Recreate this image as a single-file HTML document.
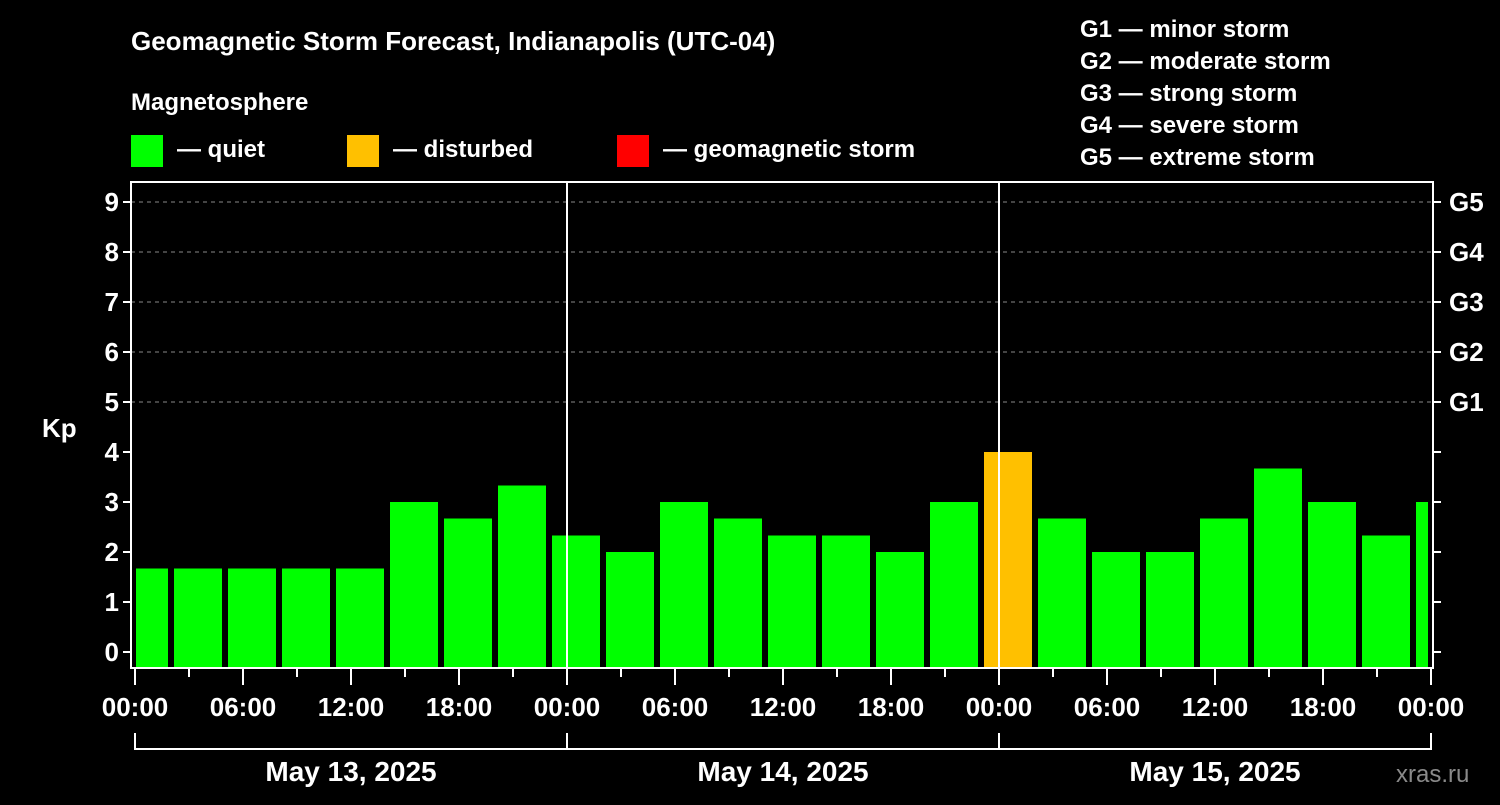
<!DOCTYPE html>
<html><head><meta charset="utf-8"><style>
body{margin:0;background:#000;width:1500px;height:800px;overflow:hidden}
svg text{font-family:"Liberation Sans",sans-serif;font-weight:bold;fill:#fff}
</style></head><body>
<svg id="c" width="1500" height="800">
<text x="131" y="50" font-size="26">Geomagnetic Storm Forecast, Indianapolis (UTC-04)</text>
<text x="131" y="110" font-size="24">Magnetosphere</text>
<g><rect x="131" y="135" width="32" height="32" fill="#00ff00"/><text x="177" y="157" font-size="24">— quiet</text></g>
<g><rect x="347" y="135" width="32" height="32" fill="#ffc000"/><text x="393" y="157" font-size="24">— disturbed</text></g>
<g><rect x="617" y="135" width="32" height="32" fill="#ff0000"/><text x="663" y="157" font-size="24">— geomagnetic storm</text></g>
<g font-size="24">
<text x="1080" y="37">G1 — minor storm</text>
<text x="1080" y="69">G2 — moderate storm</text>
<text x="1080" y="101">G3 — strong storm</text>
<text x="1080" y="133">G4 — severe storm</text>
<text x="1080" y="165">G5 — extreme storm</text>
</g>
<text x="42" y="437" font-size="26">Kp</text>
<text x="1396" y="782" font-size="24" fill="#888" style="fill:#8a8a8a;font-weight:normal">xras.ru</text>
<g id="plot"></g>
</svg>
<script>
const values=[1.67,1.67,1.67,1.67,1.67,3,2.67,3.33,2.33,2,3,2.67,2.33,2.33,2,3,4,2.67,2,2,2.67,3.67,3,2.33,3];
const barHours=values.map((v,i)=>0.5+3*i);
const yTicks=[0,1,2,3,4,5,6,7,8,9];
const gLabels=["G1","G2","G3","G4","G5"];
const gLevels=[5,6,7,8,9];
const xTickLabels=["00:00","06:00","12:00","18:00","00:00","06:00","12:00","18:00","00:00","06:00","12:00","18:00","00:00"];
const dates=["May 13, 2025","May 14, 2025","May 15, 2025"];
const L=131,R=1433,T=182,B=668,X0=135;
const x=h=>X0+h*18;
const y=v=>652-v*50;
const ns="http://www.w3.org/2000/svg",P=document.getElementById('plot');
function mk(t,a,p){const e=document.createElementNS(ns,t);for(const k in a)e.setAttribute(k,a[k]);(p||P).appendChild(e);return e;}
const cp=mk('clipPath',{id:'cl'});mk('rect',{x:L+5,y:T,width:R-L-10,height:B-T},cp);
// grid
gLevels.forEach(v=>{const l=mk('line',{x1:L,x2:R,y1:y(v),y2:y(v),stroke:'#888','stroke-dasharray':'4 4','stroke-width':1});

});
const bg=mk('g',{'clip-path':'url(#cl)'});
values.forEach((v,i)=>{const c=v>=5?'#ff0000':v>=4?'#ffc000':'#00ff00';
const r=mk('rect',{x:x(barHours[i])-24,y:y(v),width:48,height:B-y(v),fill:c},bg);

});
// day separators
[1,2].forEach(d=>{const l=mk('line',{x1:x(24*d),x2:x(24*d),y1:T,y2:B,stroke:'#fff','stroke-width':2});

});
const fr=mk('rect',{x:L,y:T,width:R-L,height:B-T,fill:'none',stroke:'#fff','stroke-width':2});


yTicks.forEach(v=>{mk('line',{x1:L-8,x2:L,y1:y(v),y2:y(v),stroke:'#fff','stroke-width':2});mk('line',{x1:R,x2:R+8,y1:y(v),y2:y(v),stroke:'#fff','stroke-width':2});
const t=mk('text',{x:L-12,y:y(v)+9,'text-anchor':'end','font-size':26});t.textContent=v;

});
gLabels.forEach((g,i)=>{const t=mk('text',{x:R+16,y:y(gLevels[i])+9,'font-size':26});t.textContent=g;

});
for(let h=0;h<=72;h+=3){const maj=h%6===0;mk('line',{x1:x(h),x2:x(h),y1:B,y2:B+(maj?17:9),stroke:'#fff','stroke-width':2});}
xTickLabels.forEach((s,i)=>{const t=mk('text',{x:x(i*6),y:716,'text-anchor':'middle','font-size':26});t.textContent=s;

});
mk('line',{x1:x(0),x2:x(72),y1:749,y2:749,stroke:'#fff','stroke-width':2});
[0,24,48,72].forEach(h=>mk('line',{x1:x(h),x2:x(h),y1:733,y2:750,stroke:'#fff','stroke-width':2}));
dates.forEach((d,i)=>{const t=mk('text',{x:x(24*i+12),y:781,'text-anchor':'middle','font-size':28});t.textContent=d;

});
</script>
</body></html>
